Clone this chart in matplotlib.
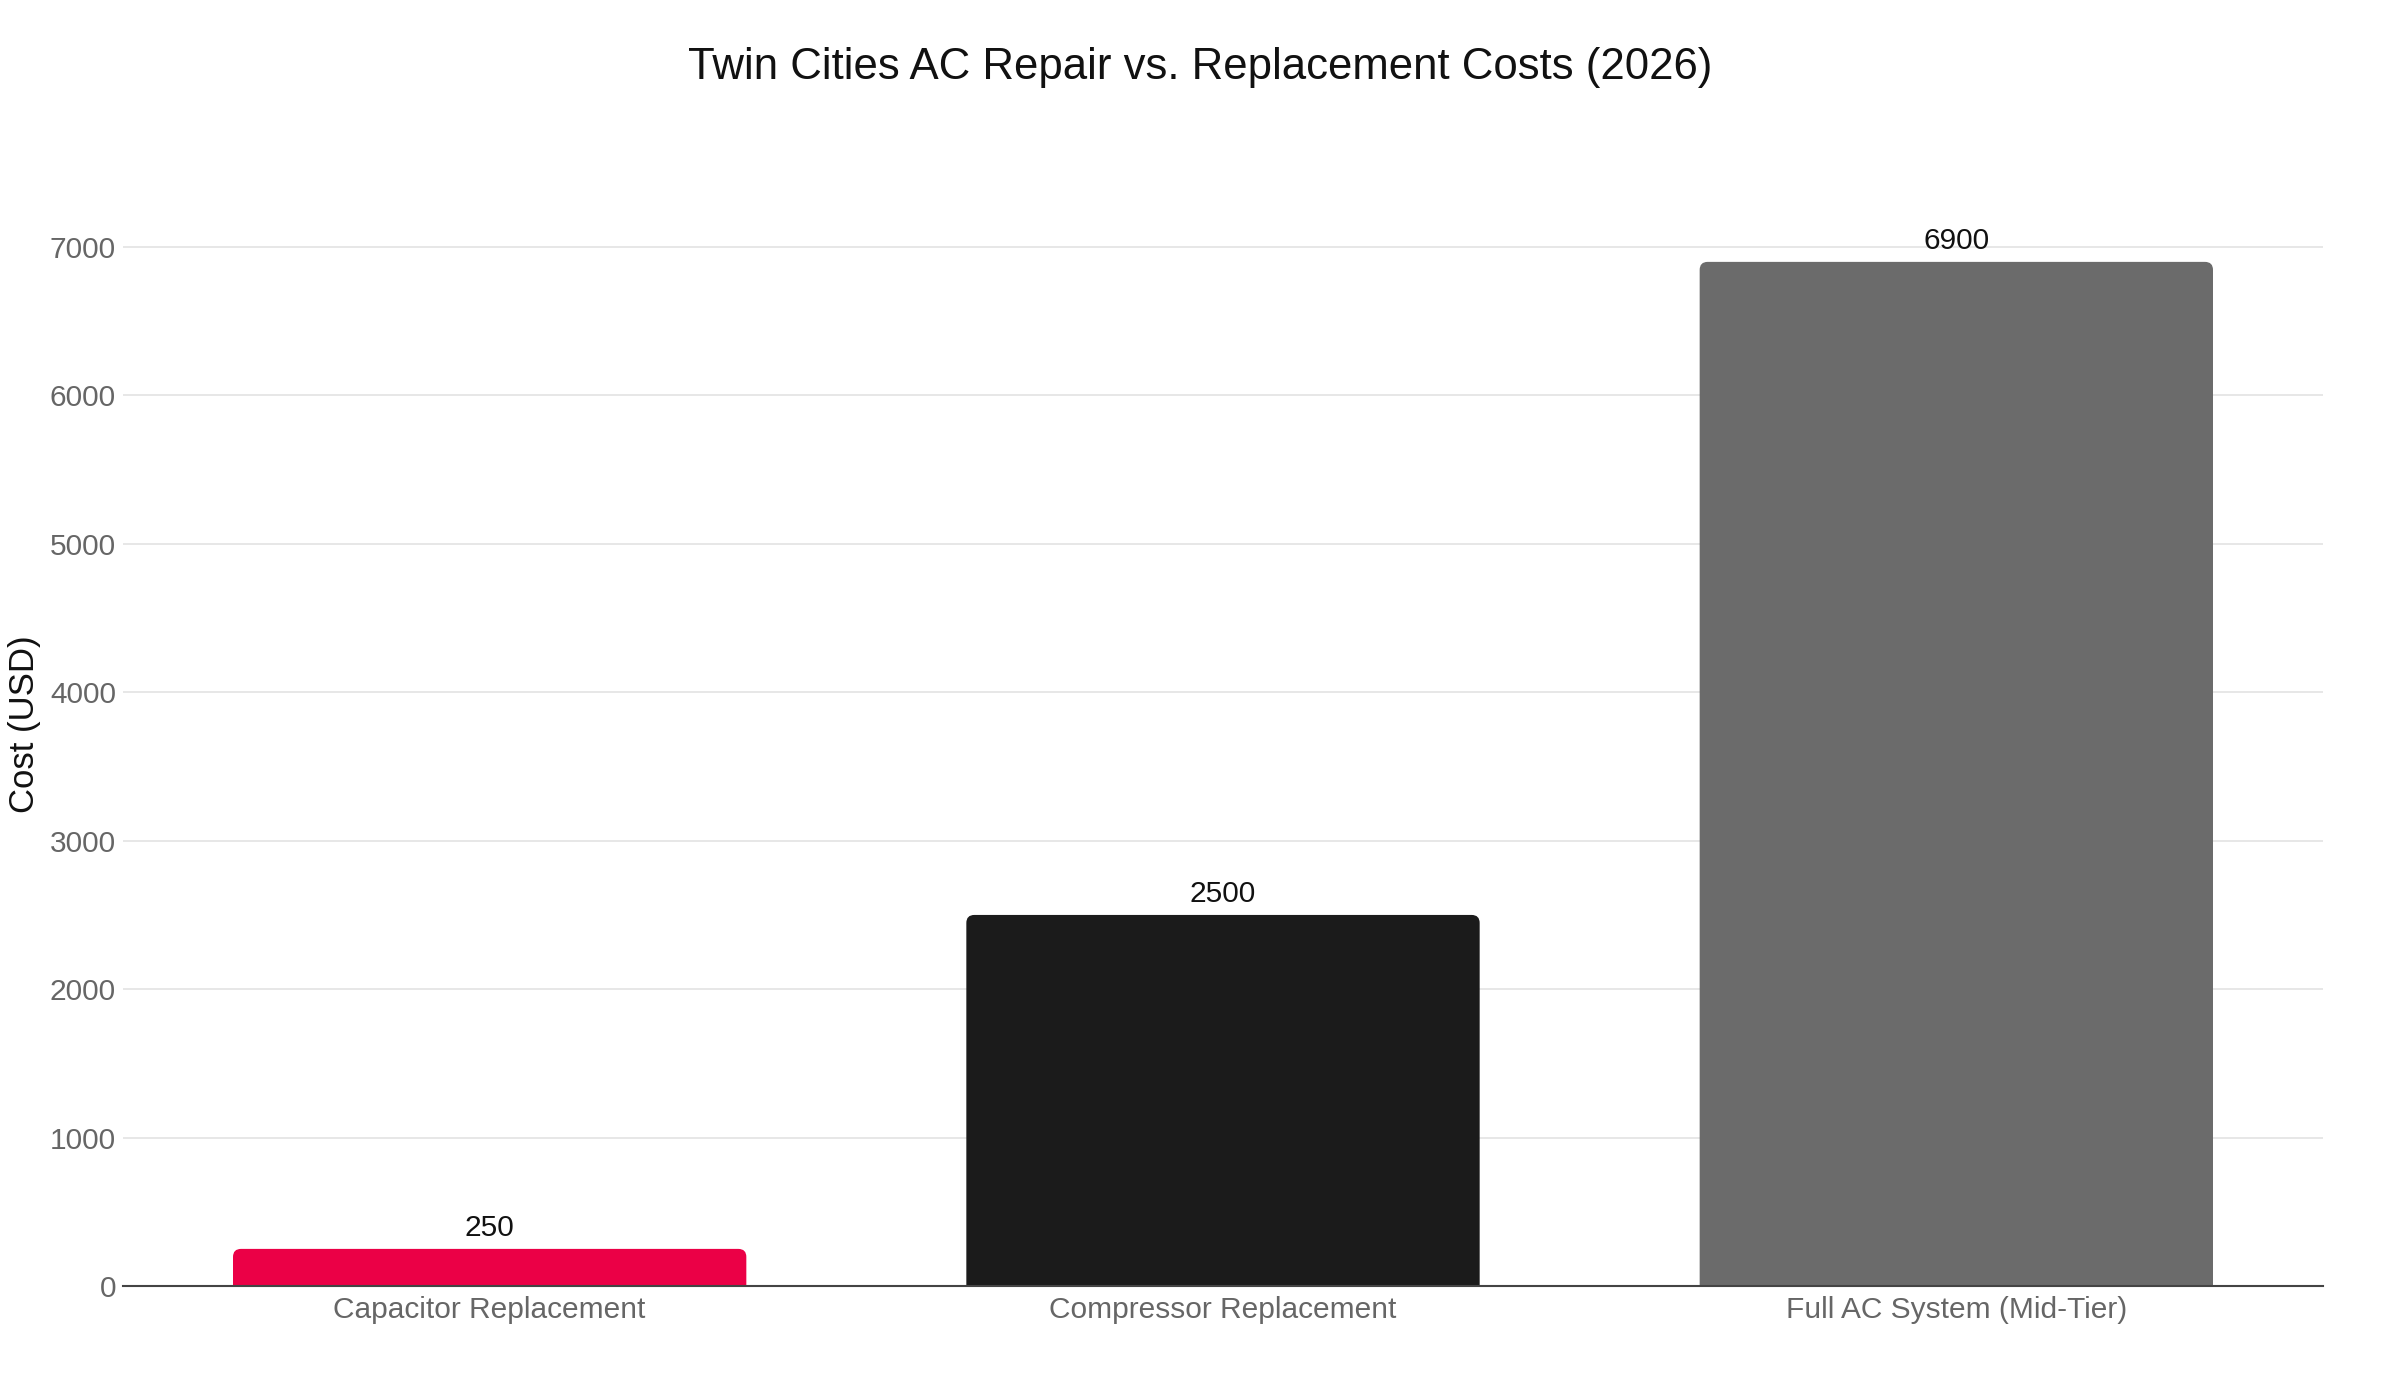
import matplotlib
matplotlib.use("Agg")
import matplotlib.pyplot as plt
from matplotlib.path import Path
from matplotlib.patches import PathPatch

categories = ["Capacitor Replacement", "Compressor Replacement", "Full AC System (Mid-Tier)"]
costs = [250, 2500, 6900]
colors = ["#EB0046", "#1B1B1B", "#6B6B6B"]
yticks = [0, 1000, 2000, 3000, 4000, 5000, 6000, 7000]

plt.rcParams["font.family"] = ["Liberation Sans", "DejaVu Sans"]

W, H = 2400, 1400
fig = plt.figure(figsize=(24, 14), dpi=100)
left, right, top, bottom = 123, 2323, 208, 1286
ax = fig.add_axes([left / W, 1 - bottom / H, (right - left) / W, (bottom - top) / H])

ax.set_xlim(-0.5, len(categories) - 0.5)
ax.set_ylim(0, 7263)

# bars drawn first, then swapped for rounded-top shapes
bars = ax.bar(range(len(categories)), costs, width=0.7, color=colors, zorder=2)

px_x = (right - left) / (len(categories))
px_y = (bottom - top) / 7263
r = 8
for b in bars:
    x0, w, h = b.get_x(), b.get_width(), b.get_height()
    rx, ry = r / px_x, r / px_y
    ry = min(ry, h / 2)
    verts = [
        (x0, 0), (x0, h - ry), (x0, h), (x0 + rx, h),
        (x0 + w - rx, h), (x0 + w, h), (x0 + w, h - ry),
        (x0 + w, 0), (x0, 0),
    ]
    codes = [Path.MOVETO, Path.LINETO, Path.CURVE3, Path.CURVE3,
             Path.LINETO, Path.CURVE3, Path.CURVE3, Path.LINETO, Path.CLOSEPOLY]
    patch = PathPatch(Path(verts, codes), facecolor=b.get_facecolor(), edgecolor="none", zorder=2)
    b.set_visible(False)
    ax.add_patch(patch)
    ax.annotate(f"{int(h)}", (x0 + w / 2, h), xytext=(0, 5), textcoords="offset points",
                ha="center", va="bottom", fontsize=21.5, color="#111111")

ax.set_yticks(yticks)
ax.set_xticks(range(len(categories)))
ax.set_xticklabels(categories)
ax.tick_params(axis="both", length=0, labelsize=21.5, labelcolor="#666666")
ax.tick_params(axis="x", pad=7)
ax.tick_params(axis="y", pad=5)
ax.grid(axis="y", color="#E5E5E5", linewidth=1.3, zorder=0)
ax.set_axisbelow(True)
for s in ["top", "right", "left"]:
    ax.spines[s].set_visible(False)
ax.spines["bottom"].set_color("#444444")
ax.spines["bottom"].set_linewidth(1.5)
ax.spines["bottom"].set_zorder(3)

fig.text(25 / W, 1 - 724 / H, "Cost (USD)", rotation=90, ha="center", va="center",
         fontsize=25, color="#111111")

fig.text(0.5, 1 - 68 / H, "Twin Cities AC Repair vs. Replacement Costs (2026)",
         ha="center", va="center", fontsize=31.5, color="#111111")

fig.savefig("out.png", dpi=100, facecolor="white")
